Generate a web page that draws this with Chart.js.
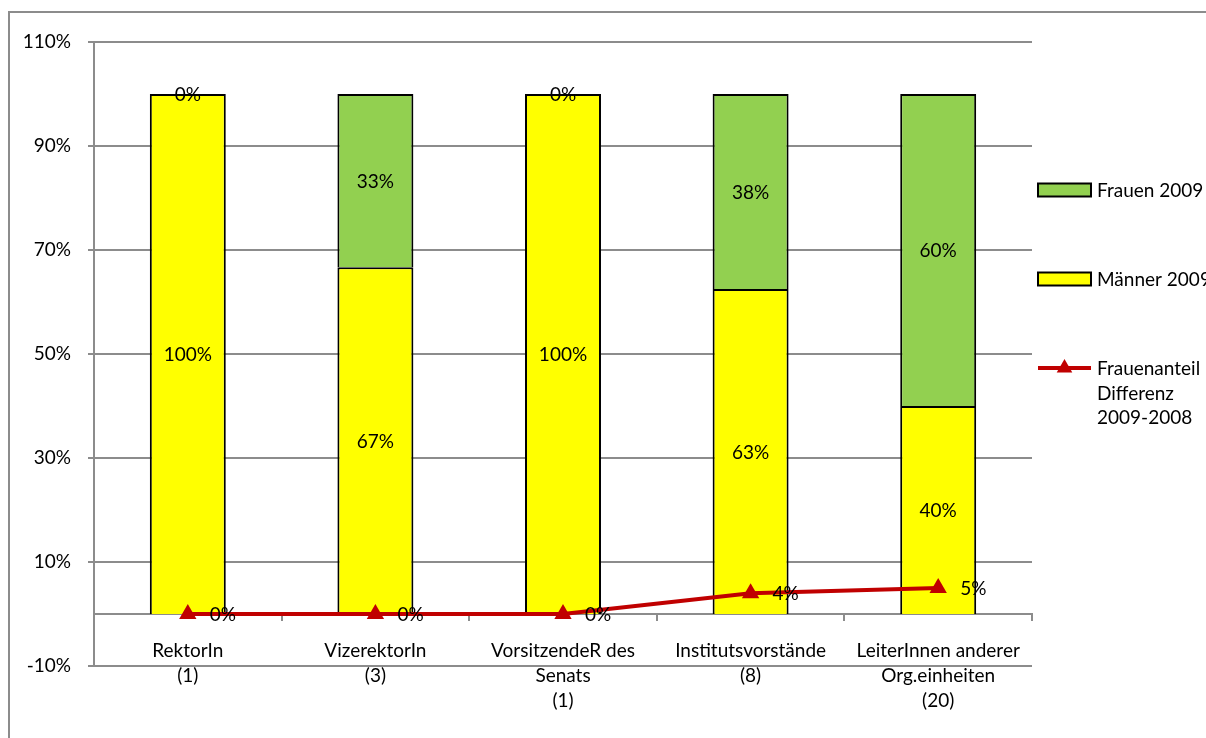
<!DOCTYPE html>
<html>
<head>
<meta charset="utf-8">
<script src="https://cdn.jsdelivr.net/npm/chart.js@4.4.1/dist/chart.umd.min.js"></script>
<style>
  html, body { margin: 0; padding: 0; background: #fff; overflow: hidden; }
  #wrap { position: relative; width: 1206px; height: 738px; }
</style>
</head>
<body>
<div id="wrap"><canvas id="c" width="1206" height="738"></canvas></div>
<script>
// Leitungsfunktionen nach Geschlecht, 2009 (Anteile in %)
const categories = [
  ["RektorIn", "(1)"],
  ["VizerektorIn", "(3)"],
  ["VorsitzendeR des", "Senats", "(1)"],
  ["Institutsvorstände", "(8)"],
  ["LeiterInnen anderer", "Org.einheiten", "(20)"]
];
const maenner2009 = [100, 66.7, 100, 62.5, 40];
const frauen2009 = [0, 33.3, 0, 37.5, 60];
const frauenDifferenz = [0, 0, 0, 4, 5];
const yTicks = [-10, 10, 30, 50, 70, 90, 110];

const FONT = 'Lato, "Open Sans", sans-serif';
const GRID = '#8c8c8c';

// white page with the grey frame around the chart
const frame = {
  id: 'frame',
  beforeDraw(chart) {
    const ctx = chart.ctx;
    ctx.save();
    ctx.fillStyle = '#fff';
    ctx.fillRect(0, 0, chart.width, chart.height);
    ctx.strokeStyle = GRID;
    ctx.lineWidth = 2;
    ctx.strokeRect(9, 12, chart.width + 20, chart.height + 20);
    ctx.restore();
  }
};

// percentage labels on bar segments and next to line points
const valueLabels = {
  id: 'valueLabels',
  afterDatasetsDraw(chart) {
    const ctx = chart.ctx;
    ctx.save();
    ctx.font = '19px ' + FONT;
    ctx.fillStyle = '#000';
    ctx.textBaseline = 'middle';
    chart.data.datasets.forEach((ds, i) => {
      const meta = chart.getDatasetMeta(i);
      meta.data.forEach((el, j) => {
        const txt = Math.round(ds.data[j]) + '%';
        if (ds.type === 'line') {
          ctx.textAlign = 'left';
          ctx.fillText(txt, el.x + 22, el.y + 1);
        } else {
          ctx.textAlign = 'center';
          ctx.fillText(txt, el.x, (el.y + el.base) / 2 + 1);
        }
      });
    });
    ctx.restore();
  }
};

// legend to the right of the plot area
const sideLegend = {
  id: 'sideLegend',
  afterDraw(chart) {
    const ctx = chart.ctx;
    const x0 = chart.chartArea.right + 6;
    const keyW = 53;
    const textX = x0 + keyW + 6;
    const rows = [
      { ds: 1, y: 190 },
      { ds: 0, y: 279 },
      { ds: 2, y: 368 }
    ];
    ctx.save();
    ctx.font = '19px ' + FONT;
    ctx.fillStyle = '#000';
    ctx.textBaseline = 'middle';
    ctx.textAlign = 'left';
    rows.forEach(r => {
      const ds = chart.data.datasets[r.ds];
      if (ds.type === 'line') {
        ctx.strokeStyle = ds.borderColor;
        ctx.lineWidth = 4;
        ctx.beginPath();
        ctx.moveTo(x0, r.y);
        ctx.lineTo(x0 + keyW, r.y);
        ctx.stroke();
        const cx = x0 + keyW / 2, rad = 9;
        ctx.fillStyle = ds.borderColor;
        ctx.beginPath();
        ctx.moveTo(cx, r.y - rad);
        ctx.lineTo(cx + rad * 0.866, r.y + rad / 2);
        ctx.lineTo(cx - rad * 0.866, r.y + rad / 2);
        ctx.closePath();
        ctx.fill();
      } else {
        ctx.fillStyle = ds.backgroundColor;
        ctx.fillRect(x0, r.y - 6.5, keyW, 13);
        ctx.strokeStyle = '#000';
        ctx.lineWidth = 2;
        ctx.strokeRect(x0, r.y - 6.5, keyW, 13);
      }
      ctx.fillStyle = '#000';
      const lines = Array.isArray(ds.label) ? ds.label : [ds.label];
      lines.forEach((t, k) => ctx.fillText(t, textX, r.y + 1 + k * 24.5));
    });
    ctx.restore();
  }
};

new Chart(document.getElementById('c'), {
  type: 'bar',
  data: {
    labels: categories,
    datasets: [
      {
        type: 'bar',
        label: 'Männer 2009',
        data: maenner2009,
        backgroundColor: '#FFFF00',
        borderColor: '#000',
        borderWidth: 2,
        stack: 'anteil',
        order: 1,
        barPercentage: 0.405,
        categoryPercentage: 1
      },
      {
        type: 'bar',
        label: 'Frauen 2009',
        data: frauen2009,
        backgroundColor: '#92D050',
        borderColor: '#000',
        borderWidth: 2,
        stack: 'anteil',
        order: 1,
        barPercentage: 0.405,
        categoryPercentage: 1
      },
      {
        type: 'line',
        label: ['Frauenanteil', 'Differenz', '2009-2008'],
        data: frauenDifferenz,
        borderColor: '#C00000',
        backgroundColor: '#C00000',
        borderWidth: 4,
        pointStyle: 'triangle',
        pointRadius: 10,
        pointBorderWidth: 0,
        pointBackgroundColor: '#C00000',
        tension: 0,
        stack: 'differenz',
        order: 0
      }
    ]
  },
  options: {
    responsive: false,
    devicePixelRatio: 1,
    animation: false,
    layout: { padding: { left: 0, top: 42, right: 174, bottom: 72 } },
    plugins: {
      legend: { display: false },
      tooltip: { enabled: false }
    },
    scales: {
      x: {
        position: { y: 0 },
        stacked: true,
        grid: { offset: true, drawOnChartArea: false, drawTicks: true, tickLength: 6, color: GRID, lineWidth: 2 },
        border: { color: GRID, width: 2 },
        ticks: {
          padding: 18,
          color: '#000',
          maxRotation: 0,
          autoSkip: false,
          font: { family: FONT, size: 19, lineHeight: 25 / 19 }
        }
      },
      y: {
        min: -10,
        max: 110,
        stacked: true,
        afterBuildTicks: s => { s.ticks = yTicks.map(v => ({ value: v })); },
        afterFit: s => { s.width = 94; },
        grid: { color: GRID, lineWidth: 2, tickLength: 6, drawTicks: true },
        border: { color: GRID, width: 2 },
        ticks: {
          padding: 17,
          color: '#000',
          font: { family: FONT, size: 19 },
          callback: v => v + '%'
        }
      }
    }
  },
  plugins: [frame, valueLabels, sideLegend]
});
</script>
</body>
</html>
